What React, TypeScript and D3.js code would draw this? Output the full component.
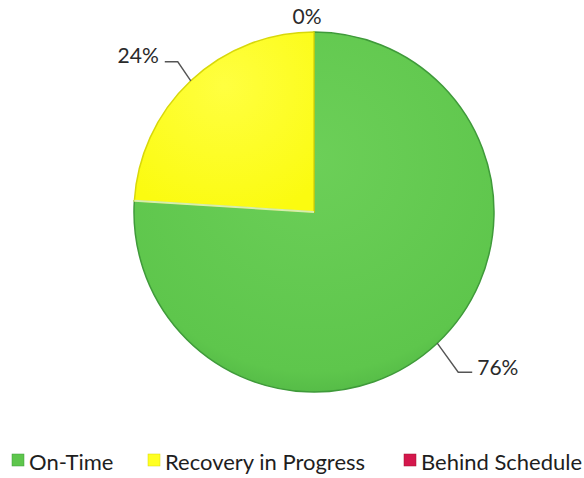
import { useMemo } from 'react';
import * as d3 from 'd3';

const width = 584;
const height = 478;

const categories = ['On-Time', 'Recovery in Progress', 'Behind Schedule'];
const values = [76, 24, 0];
const colors = ['#5ec64c', '#ffff22', '#d4174c'];
const edgeColors = ['#3f9a3a', '#d8d80a', '#a0102f'];
const legendX = [12, 148, 404];

const cx = 314;
const cy = 212;
const radius = 180;

const App = () => {
    const arcs = useMemo(() => d3.pie<number>().sort(null)(values), []);
    const arc = d3.arc<d3.PieArcDatum<number>>().innerRadius(0).outerRadius(radius);

    // point on the rim at the given angle
    const at = (angle: number, r: number) => [Math.sin(angle) * r, -Math.cos(angle) * r];
    const mid = (a: d3.PieArcDatum<number>) => (a.startAngle + a.endAngle) / 2;

    const fmt = (v: number) => `${Math.round(v)}%`;
    const [bx, by] = at(arcs[0].endAngle, radius);

    return (
        <svg width={width} height={height} style={{ position: 'absolute', left: 0, top: 0 }}
             fontFamily="Lato, 'Open Sans', sans-serif">
            <defs>
                <radialGradient id="g0" cx="0.5" cy="0.35" r="0.7">
                    <stop offset="0" stopColor="#6ccf58" />
                    <stop offset="0.85" stopColor="#5ec64c" />
                    <stop offset="1" stopColor="#4fb443" />
                </radialGradient>
                <radialGradient id="g1" cx="0.5" cy="0.3" r="0.75">
                    <stop offset="0" stopColor="#ffff40" />
                    <stop offset="1" stopColor="#fbfb10" />
                </radialGradient>
            </defs>
            <rect width={width} height={height} fill="#fff" />
            <g transform={`translate(${cx},${cy})`}>
                {arcs.map((a, i) => a.value > 0 && (
                    <path key={i} d={arc(a) ?? ''} fill={i < 2 ? `url(#g${i})` : colors[i]}
                          stroke={edgeColors[i]} strokeWidth={1.5} />
                ))}
                {/* light bevel along the green / yellow boundary */}
                <line x1={0} y1={0} x2={bx} y2={by} stroke="#d6eeae" strokeWidth={2} />
                {arcs.map((a, i) => {
                    const [px, py] = at(mid(a), radius);
                    if (i === 0) {
                        const [ex, ey] = [px + 21, py + 29];
                        return (
                            <g key={i}>
                                <polyline points={`${px},${py} ${ex},${ey} ${ex + 14},${ey}`}
                                          fill="none" stroke="#555" strokeWidth={1.4} />
                                <text x={ex + 19} y={ey + 3} fontSize={21} fill="#2a2a2a">{fmt(a.value)}</text>
                            </g>
                        );
                    }
                    if (i === 1) {
                        const [ex, ey] = [px - 13, py - 19];
                        return (
                            <g key={i}>
                                <polyline points={`${px},${py} ${ex},${ey} ${ex - 13},${ey}`}
                                          fill="none" stroke="#555" strokeWidth={1.4} />
                                <text x={ex - 19} y={ey + 1} textAnchor="end" fontSize={21} fill="#2a2a2a">{fmt(a.value)}</text>
                            </g>
                        );
                    }
                    return (
                        <text key={i} x={px - 7} y={py - 8} textAnchor="middle" fontSize={21} fill="#2a2a2a">
                            {fmt(a.value)}
                        </text>
                    );
                })}
            </g>
            <g transform="translate(0,460)">
                {categories.map((c, i) => (
                    <g key={c} transform={`translate(${legendX[i]},0)`}>
                        <rect x={0} y={-6} width={12} height={12} fill={colors[i]} stroke={edgeColors[i]} strokeWidth={0.5} />
                        <text x={17} y={10} fontSize={22} fill="#1e1e1e">{c}</text>
                    </g>
                ))}
            </g>
        </svg>
    );
};

export default App;
